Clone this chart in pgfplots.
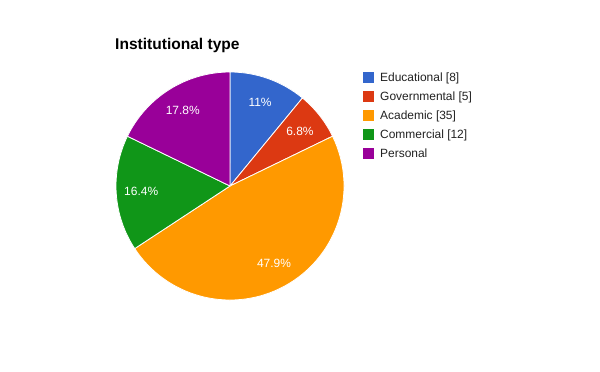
\documentclass[border=0pt]{standalone}
\usepackage{pgfplots}
\pgfplotsset{compat=1.18}
\usepackage{fontspec}
\setmainfont{Liberation Sans}
\definecolor{c1}{HTML}{3366CC}
\definecolor{c2}{HTML}{DC3912}
\definecolor{c3}{HTML}{FF9900}
\definecolor{c4}{HTML}{109618}
\definecolor{c5}{HTML}{990099}
\definecolor{txt}{HTML}{222222}
\begin{document}
\begin{tikzpicture}
\begin{axis}[x=1bp,y=1bp,xmin=0,xmax=600,ymin=0,ymax=371,hide axis,clip=false,scale only axis]
\fill[white] (axis cs:0,0) rectangle (axis cs:600,371);
\pgfplotsextra{
  % slices: value / colour / label ; total = 73
  \foreach \v/\col/\lab [remember=\e as \s (initially 90)] in {8/c1/11\%,5/c2/6.8\%,35/c3/47.9\%,12/c4/16.4\%,13/c5/17.8\%}{
    \pgfmathsetmacro\e{\s-\v/73*360}
    \fill[\col,draw=white,line width=0.8bp] (axis cs:230,185) -- ++(\s:114bp) arc[start angle=\s,end angle=\e,radius=114bp] -- cycle;
  }
  \foreach \v/\col/\lab [remember=\e as \s (initially 90)] in {8/c1/11\%,5/c2/6.8\%,35/c3/47.9\%,12/c4/16.4\%,13/c5/17.8\%}{
    \pgfmathsetmacro\e{\s-\v/73*360}
    \pgfmathsetmacro\m{(\s+\e)/2}
    \path (axis cs:230,185) ++(\m:89bp) node[text=white,font=\fontsize{12}{14}\selectfont,inner sep=0pt] {\lab};
  }
  % legend
  \foreach \i/\col/\lab in {0/c1/Educational [8],1/c2/Governmental [5],2/c3/Academic [35],3/c4/Commercial [12],4/c5/Personal}{
    \pgfmathsetmacro\yc{371-77.5-19*\i}
    \fill[\col] (axis cs:363,\yc-5.5) rectangle (axis cs:374,\yc+5.5);
    \node[anchor=base west,inner sep=0pt,text=txt,font=\fontsize{12}{14}\selectfont] at (axis cs:380,\yc-4.3) {\lab};
  }
}
\node[anchor=base west,inner sep=0pt,font=\bfseries\fontsize{15.6}{18}\selectfont] at (axis cs:115,322) {Institutional type};
\end{axis}
\end{tikzpicture}
\end{document}
